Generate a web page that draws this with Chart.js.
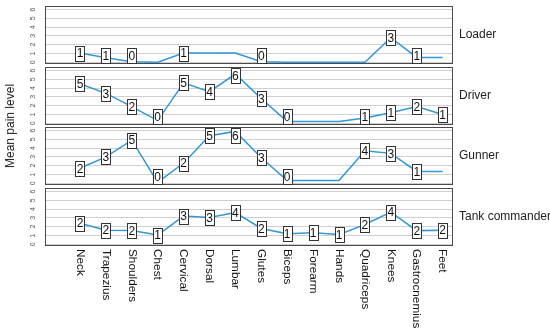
<!DOCTYPE html>
<html>
<head>
<meta charset="utf-8">
<script src="https://cdn.jsdelivr.net/npm/chart.js@4/dist/chart.umd.min.js"></script>
<style>
  body { margin: 0; background: #fff; }
  #wrap { position: relative; width: 550px; height: 333px; font-family: "Liberation Sans", Arial, sans-serif; }
  canvas { position: absolute; left: 0; }
  #ytitle { position: absolute; left: 10px; top: 126px; transform: translate(-50%, -50%) rotate(-90deg);
            font-size: 12px; color: #222; white-space: nowrap; }
</style>
</head>
<body>
<div id="wrap">
  <canvas id="p0" width="550" height="62" style="top:4px"></canvas>
  <canvas id="p1" width="550" height="62" style="top:65px"></canvas>
  <canvas id="p2" width="550" height="62" style="top:125px"></canvas>
  <canvas id="p3" width="550" height="147" style="top:186px"></canvas>
  <div id="ytitle">Mean pain level</div>
</div>
<script>
const categories = ['Neck', 'Trapezius', 'Shoulders', 'Chest', 'Cervical', 'Dorsal', 'Lumbar', 'Glutes',
  'Biceps', 'Forearm', 'Hands', 'Quadriceps', 'Knees', 'Gastrocnemius', 'Feet']

const loaderValues = [1.05, 0.5, 0.05, 0, 1.05, 1.05, 1.05, 0.05, 0, 0, 0, 0, 2.8, 0.55, 0.55]
const loaderLabels = [1, 1, 0, null, 1, null, null, 0, null, null, null, null, 3, 1, null]

const driverValues = [4.5, 3.4, 1.9, 0.3, 4.6, 3.6, 5.6, 2.8, 0.2, 0.2, 0.2, 0.6, 1.2, 1.9, 1.0]
const driverLabels = [5, 3, 2, 0, 5, 4, 6, 3, 0, null, null, 1, 1, 2, 1]

const gunnerValues = [1.7, 3.0, 4.9, 0.1, 2.3, 5.4, 5.9, 2.9, 0.3, 0.3, 0.3, 3.7, 3.4, 1.35, 1.35]
const gunnerLabels = [2, 3, 5, 0, 2, 5, 6, 3, 0, null, null, 4, 3, 1, null]

const tankValues = [2.4, 1.6, 1.55, 1.05, 3.2, 3.05, 3.6, 1.8, 1.2, 1.3, 1.1, 2.25, 3.65, 1.55, 1.6]
const tankLabels = [2, 2, 2, 1, 3, 3, 4, 2, 1, 1, 1, 2, 4, 2, 2]

const panelNames = ['Loader', 'Driver', 'Gunner', 'Tank commander']
const yGrid = [0, 0.5, 1, 1.5, 2, 2.5, 3, 3.5, 4, 4.5, 5, 5.5, 6]

const panels = [
  { id: 'p0', values: loaderValues, labels: loaderLabels },
  { id: 'p1', values: driverValues, labels: driverLabels },
  { id: 'p2', values: gunnerValues, labels: gunnerLabels },
  { id: 'p3', values: tankValues, labels: tankLabels, last: true }
]

const FONT = '"Liberation Sans", Arial, sans-serif'

// frame, boxed value labels, panel name and (bottom panel) the category names
const decor = {
  id: 'decor',
  afterDatasetsDraw(chart, args, opts) {
    const ctx = chart.ctx
    const area = chart.chartArea
    ctx.save()
    ctx.strokeStyle = '#4a4a4a'
    ctx.lineWidth = 1
    ctx.strokeRect(area.left + 0.5, area.top + 0.5, area.width - 1, area.height - 1)

    const meta = chart.getDatasetMeta(0)
    ctx.font = '12px ' + FONT
    ctx.textAlign = 'center'
    ctx.textBaseline = 'middle'
    opts.labels.forEach((lab, i) => {
      if (lab === null) return
      const pt = meta.data[i]
      const w = 9, h = 15
      let y = pt.y
      y = Math.max(area.top + 1 + h / 2, Math.min(area.bottom - 1 - h / 2, y))
      const x0 = Math.round(pt.x - w / 2) + 0.5
      const y0 = Math.round(y - h / 2) + 0.5
      ctx.fillStyle = '#fff'
      ctx.fillRect(x0, y0, w, h)
      ctx.strokeStyle = '#333'
      ctx.strokeRect(x0, y0, w, h)
      ctx.fillStyle = '#111'
      ctx.fillText(String(lab), pt.x, y + 1)
    })

    ctx.fillStyle = '#222'
    ctx.textAlign = 'left'
    ctx.fillText(opts.name, 459, (area.top + area.bottom) / 2)

    if (opts.last) {
      const xs = chart.scales.x
      ctx.font = '11.8px ' + FONT
      ctx.fillStyle = '#111'
      categories.forEach((c, i) => {
        ctx.save()
        ctx.translate(xs.getPixelForValue(i), area.bottom + 3)
        ctx.rotate(Math.PI / 2)
        ctx.textAlign = 'left'
        ctx.textBaseline = 'middle'
        ctx.fillText(c, 0, 0)
        ctx.restore()
      })
    }
    ctx.restore()
  }
}

panels.forEach((p, k) => {
  const canvas = document.getElementById(p.id)
  new Chart(canvas, {
    type: 'line',
    data: {
      datasets: [{
        data: p.values.map((v, i) => ({ x: i, y: v })),
        borderColor: '#3197d6',
        borderWidth: 1.5,
        pointRadius: 0,
        tension: 0
      }]
    },
    options: {
      responsive: false,
      animation: false,
      events: [],
      layout: { autoPadding: false, padding: { top: 2, bottom: p.last ? 87 : 2, left: 0, right: 97 } },
      plugins: {
        legend: { display: false },
        tooltip: { enabled: false },
        decor: { labels: p.labels, name: panelNames[k], last: !!p.last }
      },
      scales: {
        x: { type: 'linear', min: -1.35, max: 14.4, display: false },
        y: {
          min: -0.2,
          max: 6.4,
          afterBuildTicks: scale => { scale.ticks = yGrid.map(v => ({ value: v })) },
          afterFit: scale => {
            scale.width = 45
            scale.paddingTop = 0
            scale.paddingBottom = 0
          },
          border: { display: false },
          grid: { color: '#cfcfcf', lineWidth: 1, drawTicks: false },
          ticks: {
            minRotation: 90,
            maxRotation: 90,
            crossAlign: 'center',
            padding: 10,
            color: '#555',
            font: { size: 7, family: FONT },
            callback: v => Number.isInteger(v) ? String(v) : ''
          }
        }
      }
    },
    plugins: [decor]
  })
})
</script>
</body>
</html>
